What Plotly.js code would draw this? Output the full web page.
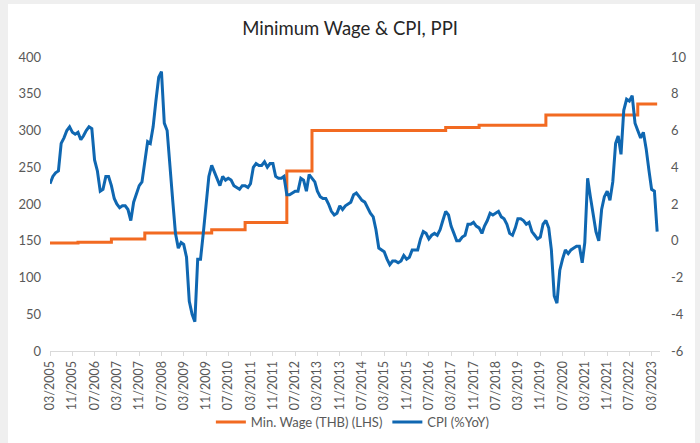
<!DOCTYPE html>
<html>
<head>
<meta charset="utf-8">
<script src="https://cdn.plot.ly/plotly-3.0.1.min.js"></script>
<style>
  html, body { margin: 0; padding: 0; background: #efefef; width: 700px; height: 443px; overflow: hidden; }
  #chart { position: absolute; left: 8px; top: 4px; width: 687px; height: 439px; background: #ffffff; }
</style>
</head>
<body>
<div id="chart"></div>
<script>
// ---- Data ----
const cpiStart = [2005, 3]; // first monthly observation: 03/2005
const cpi2005 = [3.1, 3.5, 3.7, 3.8, 5.3, 5.6, 6.0, 6.2, 5.9, 5.8];
const cpi2006 = [5.9, 5.5, 5.7, 6.0, 6.2, 6.1, 4.4, 3.8, 2.7, 2.8, 3.5, 3.5];
const cpi2007 = [3.0, 2.3, 2.0, 1.8, 1.9, 1.9, 1.7, 1.1, 2.1, 2.5, 3.0, 3.2];
const cpi2008 = [4.3, 5.4, 5.3, 6.2, 7.6, 8.9, 9.2, 6.4, 6.0, 3.9, 2.2, 0.4];
const cpi2009 = [-0.4, -0.1, -0.2, -0.9, -3.3, -4.0, -4.4, -1.0, -1.0, 0.4, 1.9, 3.5];
const cpi2010 = [4.1, 3.7, 3.4, 3.0, 3.5, 3.3, 3.4, 3.3, 3.0, 2.9, 2.8, 3.0];
const cpi2011 = [3.0, 2.9, 3.1, 4.0, 4.2, 4.1, 4.1, 4.3, 4.0, 4.2, 4.2, 3.5];
const cpi2012 = [3.4, 3.4, 3.5, 2.5, 2.5, 2.6, 2.7, 2.7, 3.4, 3.3, 2.7, 3.6];
const cpi2013 = [3.4, 3.2, 2.7, 2.4, 2.3, 2.3, 2.0, 1.6, 1.4, 1.5, 1.9, 1.7];
const cpi2014 = [1.9, 2.0, 2.1, 2.5, 2.6, 2.4, 2.2, 2.1, 1.8, 1.5, 1.3, 0.6];
const cpi2015 = [-0.4, -0.5, -0.6, -1.0, -1.3, -1.1, -1.1, -1.2, -1.1, -0.8, -1.0, -0.9];
const cpi2016 = [-0.5, -0.5, -0.5, 0.1, 0.5, 0.4, 0.1, 0.3, 0.4, 0.3, 0.6, 1.1];
const cpi2017 = [1.6, 1.4, 0.8, 0.4, 0.0, 0.0, 0.2, 0.3, 0.9, 0.9, 1.0, 0.8];
const cpi2018 = [0.7, 0.4, 0.8, 1.1, 1.5, 1.4, 1.5, 1.6, 1.3, 1.2, 0.9, 0.4];
const cpi2019 = [0.3, 0.7, 1.2, 1.2, 1.1, 0.9, 1.0, 0.5, 0.3, 0.1, 0.2, 0.9];
const cpi2020 = [1.1, 0.7, -0.5, -3.0, -3.4, -1.6, -1.0, -0.5, -0.7, -0.5, -0.4, -0.3];
const cpi2021 = [-0.3, -1.2, -0.1, 3.4, 2.4, 1.3, 0.5, 0.0, 1.7, 2.4, 2.7, 2.2];
const cpi2022 = [3.2, 5.3, 5.7, 4.7, 7.1, 7.7, 7.6, 7.9, 6.4, 6.0, 5.6, 5.9];
const cpi2023 = [5.0, 3.8, 2.8, 2.7, 0.5];

// Minimum wage (THB/day): dates of each change and level from that date (step line)
const wageDates = ['2005-03-01', '2006-01-01', '2007-01-01', '2008-01-01', '2010-01-01',
                   '2011-01-01', '2012-04-01', '2013-01-01', '2017-01-01', '2018-01-01',
                   '2020-01-01', '2022-10-01', '2023-05-01'];
const wageValues = [147, 148, 152.5, 160.5, 165, 175, 245, 300, 304, 307, 321, 336, 336];

const leftTicks = [0, 50, 100, 150, 200, 250, 300, 350, 400];
const rightTicks = [-6, -4, -2, 0, 2, 4, 6, 8, 10];
const rightTickText = ['-6', '-4', '-2', '0', '2', '4', '6', '8', '10'];

const seriesNames = ['Min. Wage (THB) (LHS)', 'CPI (%YoY)'];
const chartTitle = 'Minimum Wage & CPI, PPI';

// ---- Build monthly dates for CPI ----
const cpiValues = [].concat(cpi2005, cpi2006, cpi2007, cpi2008, cpi2009, cpi2010, cpi2011,
  cpi2012, cpi2013, cpi2014, cpi2015, cpi2016, cpi2017, cpi2018, cpi2019, cpi2020,
  cpi2021, cpi2022, cpi2023);
const cpiDates = [];
{
  let y = cpiStart[0], m = cpiStart[1];
  for (let i = 0; i < cpiValues.length; i++) {
    cpiDates.push(y + '-' + String(m).padStart(2, '0') + '-01');
    m++; if (m > 12) { m = 1; y++; }
  }
}

const ORANGE = '#F26A21';
const BLUE = '#0F67B1';
const FONT = 'Lato, "Open Sans", sans-serif';
const TICKCOL = '#595959';

const traces = [
  {
    x: wageDates, y: wageValues, name: seriesNames[0], type: 'scatter', mode: 'lines',
    line: { color: ORANGE, width: 3, shape: 'hv' }, yaxis: 'y', hoverinfo: 'x+y'
  },
  {
    x: cpiDates, y: cpiValues, name: seriesNames[1], type: 'scatter', mode: 'lines',
    line: { color: BLUE, width: 3 }, yaxis: 'y2', hoverinfo: 'x+y'
  }
];

const layout = {
  width: 687, height: 439,
  margin: { l: 42, r: 35, t: 53, b: 92 },
  paper_bgcolor: '#ffffff', plot_bgcolor: '#ffffff',
  font: { family: FONT, color: TICKCOL, size: 12.5 },
  title: {
    text: chartTitle, font: { family: FONT, size: 18.5, color: '#262626' },
    x: 0.498, xref: 'container', xanchor: 'center',
    y: 0.945, yref: 'container', yanchor: 'middle', automargin: false
  },
  showlegend: true,
  legend: {
    orientation: 'h', xref: 'container', yref: 'container',
    x: 0.502, xanchor: 'center', y: 0.048, yanchor: 'middle',
    bgcolor: 'rgba(0,0,0,0)',
    font: { family: FONT, size: 13, color: TICKCOL }, itemwidth: 30,
    traceorder: 'normal'
  },
  xaxis: {
    type: 'date', range: ['2005-03-01', '2023-06-01'], automargin: false,
    tick0: '2005-03-01', dtick: 'M8', tickformat: '%m/%Y', tickangle: -90,
    showgrid: false, zeroline: false,
    showline: true, linecolor: '#d9d9d9', linewidth: 1,
    ticks: 'outside', ticklen: 4, tickcolor: '#d9d9d9',
    tickfont: { family: FONT, size: 12.5, color: TICKCOL }
  },
  yaxis: {
    range: [0, 400], tickmode: 'array', tickvals: leftTicks, automargin: false,
    showgrid: false, zeroline: false, showline: false, ticks: '',
    ticklabelstandoff: 8,
    tickfont: { family: FONT, size: 13, color: TICKCOL }
  },
  yaxis2: {
    range: [-6, 10], overlaying: 'y', side: 'right', automargin: false,
    tickmode: 'array', tickvals: rightTicks, ticktext: rightTickText,
    showgrid: false, zeroline: false, showline: false, ticks: '',
    ticklabelstandoff: 10,
    tickfont: { family: FONT, size: 13, color: TICKCOL }
  }
};

Plotly.newPlot('chart', traces, layout, { displayModeBar: false, staticPlot: true });
</script>
</body>
</html>
